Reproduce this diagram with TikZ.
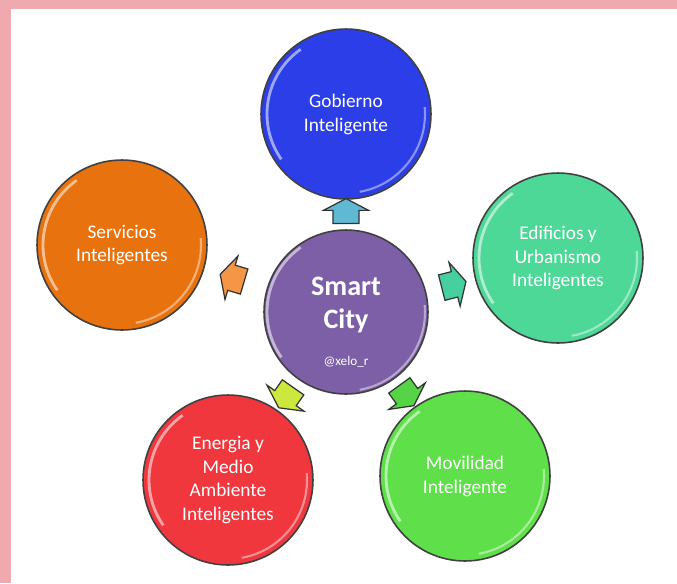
\documentclass[tikz,border=0pt]{standalone}
\usepackage{fontspec}
\setmainfont{Carlito}
\usetikzlibrary{shapes.arrows,positioning}
\definecolor{gobcol}{RGB}{43,62,232}
\definecolor{servcol}{RGB}{232,114,14}
\definecolor{edifcol}{RGB}{78,216,152}
\definecolor{enercol}{RGB}{240,55,62}
\definecolor{movcol}{RGB}{95,224,74}
\definecolor{hubcol}{RGB}{124,95,166}
\definecolor{marco}{RGB}{238,170,175}
\definecolor{fgobcol}{RGB}{95,185,210}
\definecolor{fservcol}{RGB}{245,150,70}
\definecolor{fedifcol}{RGB}{70,208,160}
\definecolor{fenercol}{RGB}{205,232,60}
\definecolor{fmovcol}{RGB}{85,212,70}
\tikzset{
  bubble/.style = {shape=circle, draw=black!75, line width=0.9pt,
                   fill=#1, minimum size=3.4cm, align=center,
                   text=white, font=\fontsize{11}{13.6}\selectfont,
                   path picture={
                     \draw[white, opacity=.55, line width=1.6pt]
                       (path picture bounding box.center) ++(125:1.58cm) arc (125:215:1.58cm);
                     \draw[white, opacity=.45, line width=1.2pt]
                       (path picture bounding box.center) ++(-80:1.58cm) arc (-80:5:1.58cm);}},
  hub/.style    = {bubble=hubcol, minimum size=3.28cm},
  hubtext/.style = {align=center, text=white,
                   font=\fontsize{16}{19}\selectfont\bfseries},
  flecha/.style = {single arrow, draw=black!80, line width=0.7pt, fill=#1,
                   inner xsep=0pt, inner ysep=0.25cm, minimum height=0.5cm,
                   single arrow head extend=0.19cm, single arrow tip angle=125,
                   midway, sloped, allow upside down}
}
\begin{document}
\begin{tikzpicture}[x=0.02cm, y=-0.02cm]
  \useasboundingbox (0,0) rectangle (677,583);
  % frame
  \fill[marco] (0,0) rectangle (677,583);
  \fill[white] (11,9) rectangle (677,583);

  \node[hub] (city) at (346,312) {};
  \node[hubtext] (citytxt) at ([yshift=-0.2cm]city.center)
    {Smart\\City\\[2pt]{\fontsize{7.5}{8}\selectfont\mdseries @xelo\_r}};

  \node[bubble=gobcol]  (gob)  at (346,114) {Gobierno\\Inteligente};
  \node[bubble=servcol] (serv) at (122,245) {Servicios\\Inteligentes};
  \node[bubble=edifcol] (edif) at (558,258) {Edificios y\\Urbanismo\\Inteligentes};
  \node[bubble=enercol] (ener) at (228,480) {Energia y\\Medio\\Ambiente\\Inteligentes};
  \node[bubble=movcol]  (mov)  at (465,476) {Movilidad\\Inteligente};

  % arrows
  \path (city) -- (gob)  node[flecha=fgobcol]  (fgob)  {};
  \path (city) -- (serv) node[flecha=fservcol] (fserv) {};
  \path (city) -- (edif) node[flecha=fedifcol] (fedif) {};
  \path (city) -- (ener) node[flecha=fenercol] (fener) {};
  \path (city) -- (mov)  node[flecha=fmovcol]  (fmov)  {};
\end{tikzpicture}
\end{document}
